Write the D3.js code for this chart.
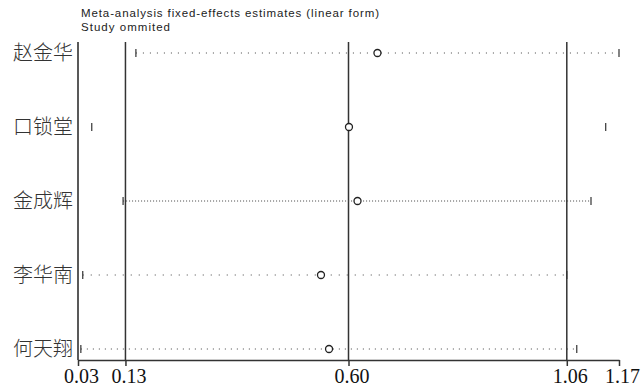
<!DOCTYPE html>
<html><head><meta charset="utf-8">
<script src="https://cdn.jsdelivr.net/npm/d3@7"></script>
<style>body{margin:0;background:#fff}svg{display:block}</style>
</head><body>
<script>
const studies = ["赵金华","口锁堂","金成辉","李华南","何天翔"];
const estimate = [0.661, 0.601, 0.619, 0.542, 0.559];
const lower = [0.152, 0.059, 0.125, 0.040, 0.036];
const upper = [1.170, 1.142, 1.111, 1.060, 1.081];
const refLines = [0.13, 0.60, 1.06];
const tickValues = [0.03, 0.13, 0.60, 1.06, 1.17];
const tickLabels = ["0.03","0.13","0.60","1.06","1.17"];
const titleLines = ["Meta-analysis fixed-effects estimates (linear form)","Study ommited"];

(function(){
const W=641,H=392;
const svg=d3.select("body").append("svg").attr("width",W).attr("height",H);
const x=d3.scaleLinear().domain([0.03,1.17]).range([78,619]);
const y=d3.scalePoint().domain(studies).range([53,349]);
const topY=42, axisY=360;
const titleW=[298,89];

// titles
svg.selectAll("text.title").data(titleLines).join("text").attr("class","title")
  .attr("x",81).attr("y",(d,i)=>16.5+i*14)
  .attr("font-family","Liberation Sans, Arial, sans-serif").attr("font-size",11.5)
  .attr("textLength",(d,i)=>titleW[i]).attr("lengthAdjust","spacing")
  .attr("fill","#222").text(d=>d);

// left boundary line
svg.append("line").attr("x1",x(0.03)).attr("x2",x(0.03)).attr("y1",topY).attr("y2",axisY)
  .attr("stroke","#222").attr("stroke-width",1.5);
// reference lines
svg.selectAll("line.ref").data(refLines).join("line").attr("class","ref")
  .attr("x1",d=>x(d)).attr("x2",d=>x(d)).attr("y1",topY).attr("y2",axisY)
  .attr("stroke","#333").attr("stroke-width",1.5);

// x axis
const ax=svg.append("g").attr("transform",`translate(0,${axisY})`)
  .call(d3.axisBottom(x).tickValues(tickValues).tickFormat((d,i)=>tickLabels[i]).tickSize(6).tickPadding(3).tickSizeOuter(0));
ax.select(".domain").attr("stroke","#333").attr("stroke-width",1.5);
ax.selectAll(".tick line").attr("stroke","#333").attr("stroke-width",1.5);
ax.selectAll(".tick text").attr("font-family","Liberation Serif, Times New Roman, serif")
  .attr("font-size",20).attr("fill","#111").attr("dx",3);

// study labels
svg.selectAll("text.study").data(studies).join("text").attr("class","study")
  .attr("x",73).attr("y",d=>y(d)).attr("dy","0.36em").attr("text-anchor","end")
  .attr("font-family","Noto Sans CJK SC, sans-serif").attr("font-size",20).attr("font-weight",300)
  .attr("fill","#333").text(d=>d);

// CI lines
const dash=["1,6","0,1000","1,2","1,7","1,5"];
const rows=studies.map((s,i)=>({s,e:estimate[i],l:lower[i],u:upper[i],i}));
svg.selectAll("line.ci").data(rows).join("line").attr("class","ci")
  .attr("x1",d=>x(d.l)).attr("x2",d=>x(d.u)).attr("y1",d=>y(d.s)).attr("y2",d=>y(d.s))
  .attr("stroke","#444").attr("stroke-width",1).attr("stroke-dasharray",d=>dash[d.i]);
// caps
const caps=[];
rows.forEach(d=>{caps.push({v:d.l,s:d.s});caps.push({v:d.u,s:d.s});});
svg.selectAll("line.cap").data(caps).join("line").attr("class","cap")
  .attr("x1",d=>x(d.v)).attr("x2",d=>x(d.v)).attr("y1",d=>y(d.s)-4).attr("y2",d=>y(d.s)+4)
  .attr("stroke","#333").attr("stroke-width",1.2);
// estimates
svg.selectAll("circle.est").data(rows).join("circle").attr("class","est")
  .attr("cx",d=>x(d.e)).attr("cy",d=>y(d.s)).attr("r",3.5)
  .attr("fill","#fff").attr("stroke","#222").attr("stroke-width",1.3);
})();
</script>
</body></html>
